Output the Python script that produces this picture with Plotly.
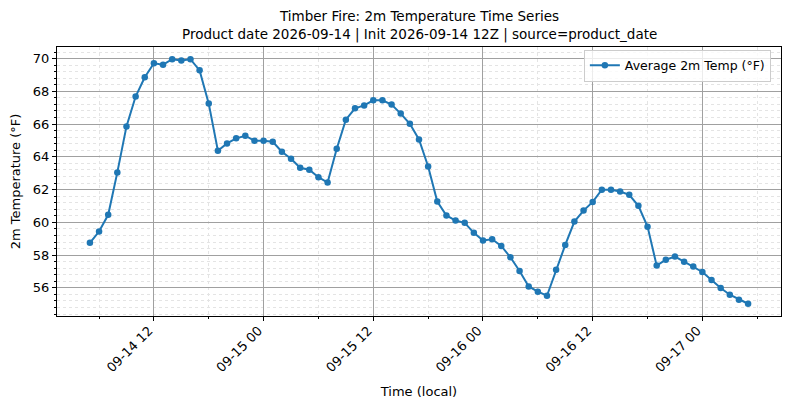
import pandas as pd
import plotly.graph_objects as go

# hourly average 2m temperature (°F), local time
start_time = "2026-09-14 05:00"
temps_f = [
    58.75, 59.44, 60.46, 63.05, 65.86, 67.68, 68.86, 69.71, 69.63, 69.96,
    69.88, 69.96, 69.28, 67.25, 64.37, 64.82, 65.13, 65.29, 64.98, 64.98,
    64.92, 64.31, 63.88, 63.33, 63.21, 62.76, 62.43, 64.50, 66.27, 66.96,
    67.14, 67.45, 67.45, 67.19, 66.64, 66.02, 65.06, 63.41, 61.27, 60.42,
    60.11, 59.97, 59.36, 58.89, 58.97, 58.56, 57.87, 57.03, 56.09, 55.77,
    55.52, 57.11, 58.62, 60.05, 60.72, 61.25, 61.99, 61.99, 61.88, 61.68,
    61.01, 59.74, 57.36, 57.72, 57.91, 57.60, 57.30, 56.97, 56.48, 55.99,
    55.58, 55.28, 55.03,
]
times = pd.date_range(start_time, periods=len(temps_f), freq="h")

title_lines = [
    "Timber Fire: 2m Temperature Time Series",
    "Product date 2026-09-14 | Init 2026-09-14 12Z | source=product_date",
]

fig = go.Figure()
fig.add_trace(go.Scatter(
    x=times,
    y=temps_f,
    mode="lines+markers",
    name="Average 2m Temp (°F)",
    line=dict(color="#1f77b4", width=2),
    marker=dict(size=6.5, color="#1f77b4"),
))

# matplotlib-like 5% padding around the data
t_pad = (times[-1] - times[0]) * 0.05
y_pad = (max(temps_f) - min(temps_f)) * 0.05

axis_common = dict(
    showline=True, mirror=True, linecolor="black", linewidth=1,
    ticks="outside", ticklen=4, tickcolor="black",
    showgrid=True, gridcolor="#a0a0a0", gridwidth=1,
    zeroline=False, automargin=False,
    tickfont=dict(size=13, color="black"),
)
minor_grid = dict(ticks="outside", ticklen=2, tickcolor="black",
                  showgrid=True, gridcolor="#e4e4e4", griddash="dot",
                  gridwidth=0.8)

# page body adds an 8px offset, margins compensate for it
fig.update_layout(
    width=790, height=409,
    margin=dict(l=49, r=17, t=39, b=101),
    paper_bgcolor="white", plot_bgcolor="white",
    font=dict(family="DejaVu Sans", color="black"),
    xaxis=dict(
        **axis_common,
        type="date",
        range=[times[0] - t_pad, times[-1] + t_pad],
        tick0="2026-09-14 00:00", dtick=12 * 3600 * 1000,
        tickformat="%m-%d %H", tickangle=-45,
        ticklabelshift=-5, ticklabelstandoff=-3,
        minor=dict(dtick=6 * 3600 * 1000, **minor_grid),
        title=dict(text="Time (local)", font=dict(size=13), standoff=12),
    ),
    yaxis=dict(
        **axis_common,
        range=[min(temps_f) - y_pad, max(temps_f) + y_pad],
        dtick=2,
        minor=dict(dtick=0.4, **minor_grid),
        title=dict(text="2m Temperature (°F)", font=dict(size=13), standoff=10),
    ),
    legend=dict(
        x=0.986, y=0.99, xanchor="right", yanchor="top",
        bgcolor="rgba(255,255,255,0.8)", bordercolor="#cccccc", borderwidth=1,
        font=dict(size=12.5), itemwidth=30, tracegroupgap=0,
    ),
    showlegend=True,
)

# two-line title centred over the plot area
for text, ypos in zip(title_lines, [1.115, 1.048]):
    fig.add_annotation(
        text=text, xref="paper", yref="paper", x=0.5, y=ypos,
        xanchor="center", yanchor="middle", showarrow=False,
        font=dict(size=13.5, color="black"),
    )

fig.write_html("out.html")
